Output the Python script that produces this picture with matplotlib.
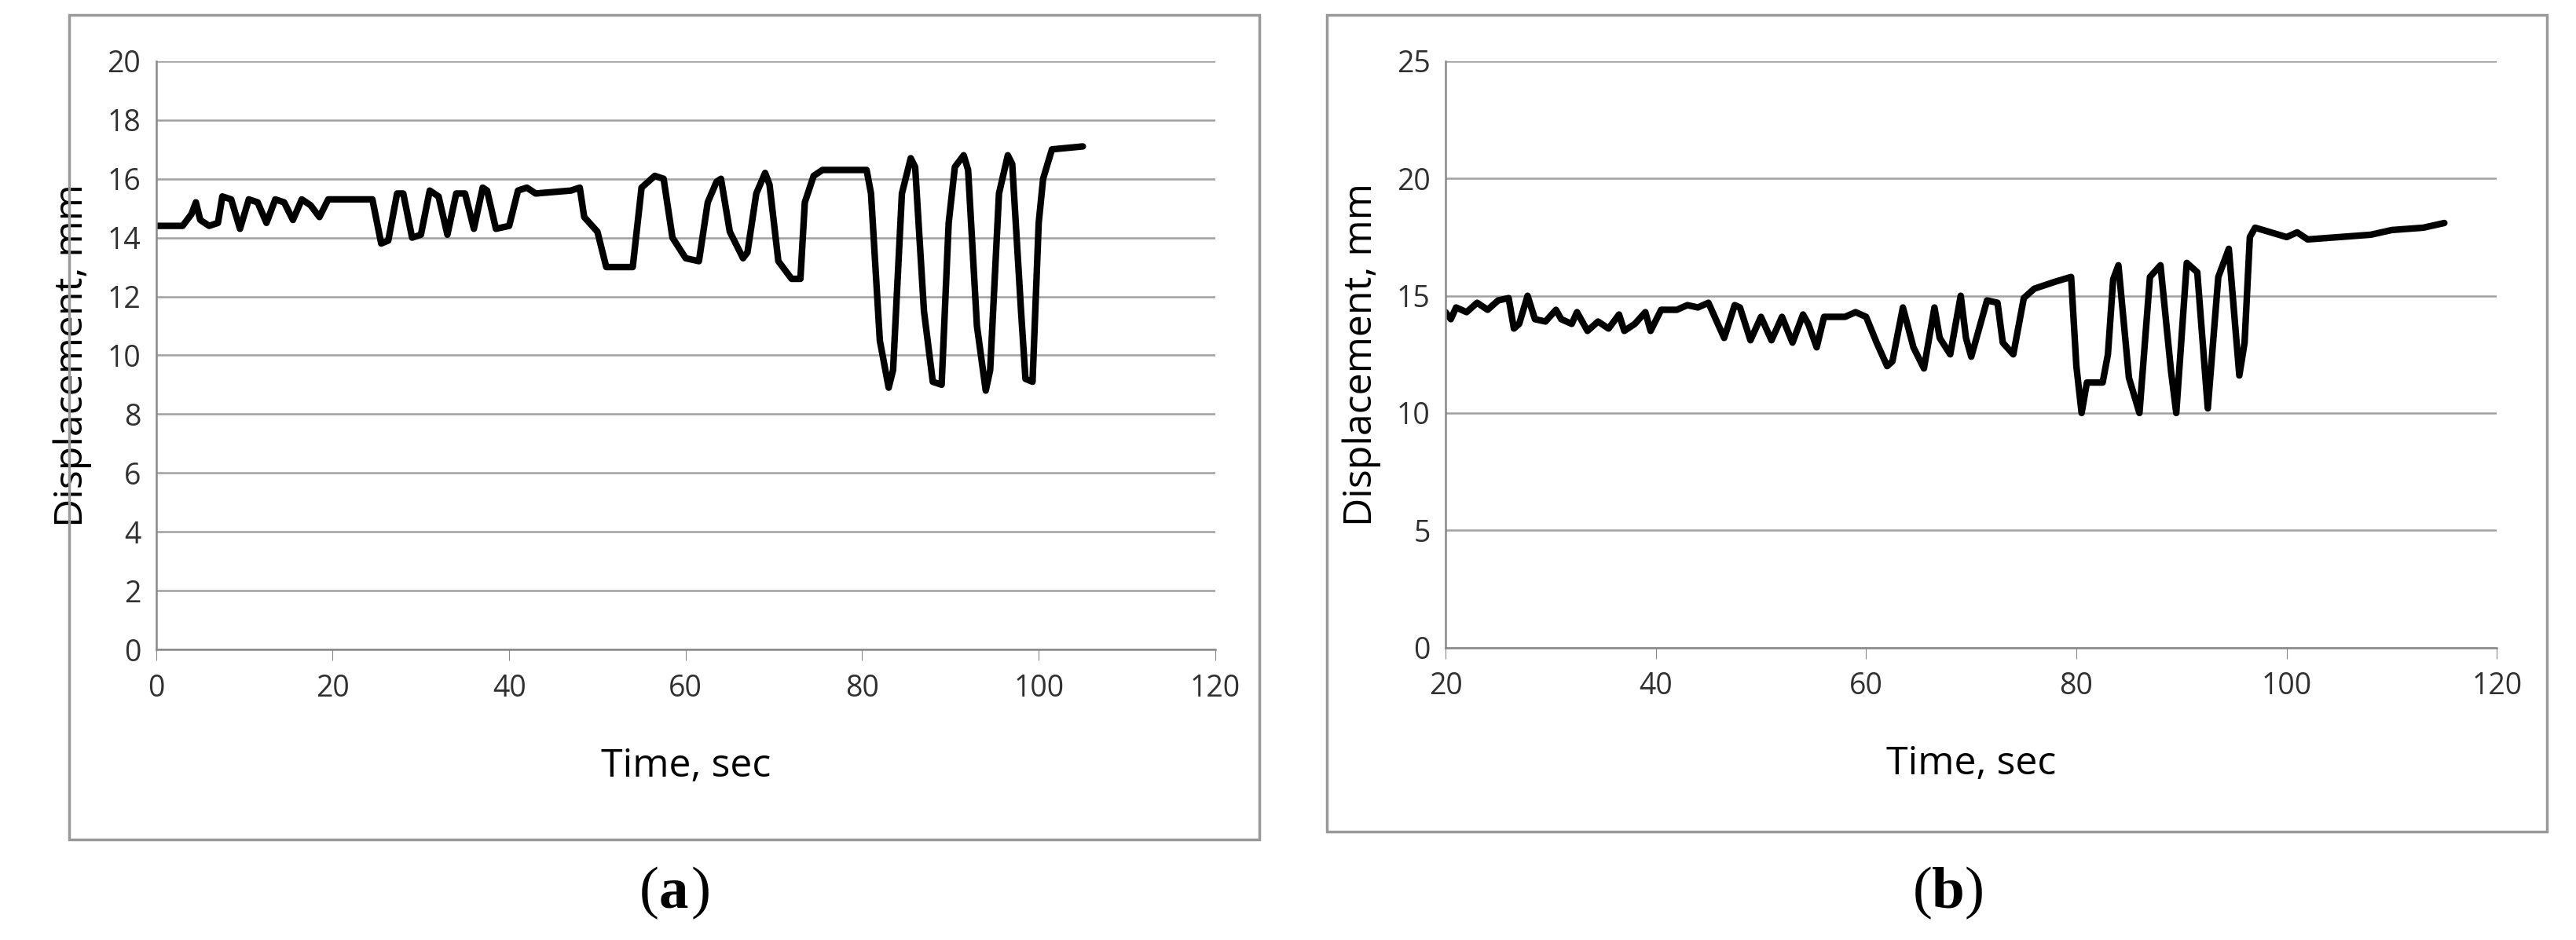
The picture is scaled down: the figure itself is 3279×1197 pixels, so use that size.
import matplotlib

matplotlib.use("Agg")
import matplotlib.pyplot as plt
from matplotlib.patches import Rectangle

# panel (a)
t_a = [0, 3, 4, 4.5, 5, 6, 7, 7.5, 8.5, 9.5, 10.5, 11.5, 12.5, 13.5, 14.5, 15.5,
       16.5, 17.5, 18.5, 19.5, 24.5, 25.5, 26.3, 27.3, 28, 29, 30, 31, 32, 33, 34,
       35, 36, 37, 37.5, 38.5, 40, 41, 42, 43, 47, 48, 48.5, 50, 51, 54, 55, 56.5,
       57.5, 58.5, 60, 61.5, 62.5, 63.5, 64, 65, 66.5, 67, 68, 69, 69.5, 70.5, 72,
       73, 73.5, 74.5, 75.5, 80.5, 81, 82, 83, 83.5, 84.5, 85.5, 86, 87, 88, 89,
       89.8, 90.5, 91.5, 92, 93, 94, 94.5, 95.5, 96.5, 97, 98, 98.5, 99.3, 100,
       100.5, 101.5, 105]
d_a = [14.4, 14.4, 14.8, 15.2, 14.6, 14.4, 14.5, 15.4, 15.3, 14.3, 15.3, 15.2,
       14.5, 15.3, 15.2, 14.6, 15.3, 15.1, 14.7, 15.3, 15.3, 13.8, 13.9, 15.5,
       15.5, 14.0, 14.1, 15.6, 15.4, 14.1, 15.5, 15.5, 14.3, 15.7, 15.6, 14.3,
       14.4, 15.6, 15.7, 15.5, 15.6, 15.7, 14.7, 14.2, 13.0, 13.0, 15.7, 16.1,
       16.0, 14.0, 13.3, 13.2, 15.2, 15.9, 16.0, 14.2, 13.3, 13.5, 15.5, 16.2,
       15.8, 13.2, 12.6, 12.6, 15.2, 16.1, 16.3, 16.3, 15.5, 10.5, 8.9, 9.5,
       15.5, 16.7, 16.4, 11.5, 9.1, 9.0, 14.5, 16.4, 16.8, 16.3, 11.0, 8.8, 9.5,
       15.5, 16.8, 16.5, 11.5, 9.2, 9.1, 14.5, 16.0, 17.0, 17.1]

# panel (b)
t_b = [20, 20.5, 21, 22, 23, 24, 25, 26, 26.5, 27, 27.8, 28.5, 29.5, 30.5, 31,
       32, 32.5, 33.5, 34.5, 35.5, 36.5, 37, 38, 39, 39.5, 40.5, 42, 43, 44, 45,
       45.5, 46.5, 47.5, 48, 49, 50, 51, 52, 53, 54, 54.5, 55.3, 56, 58, 59, 60,
       61, 62, 62.5, 63.5, 64.5, 65.5, 66.5, 67, 68, 69, 69.5, 70, 71.5, 72.5, 73,
       74, 75, 76, 78, 79.5, 80, 80.5, 81, 82.5, 83, 83.5, 84, 85, 86, 87, 88, 89,
       89.5, 90.5, 91.5, 92.5, 93.5, 94.5, 95.5, 96, 96.5, 97, 100, 101, 102, 105,
       108, 110, 113, 115]
d_b = [14.3, 14.0, 14.5, 14.3, 14.7, 14.4, 14.8, 14.9, 13.6, 13.8, 15.0, 14.0,
       13.9, 14.4, 14.0, 13.8, 14.3, 13.5, 13.9, 13.6, 14.2, 13.5, 13.8, 14.3,
       13.5, 14.4, 14.4, 14.6, 14.5, 14.7, 14.2, 13.2, 14.6, 14.5, 13.1, 14.1,
       13.1, 14.1, 13.0, 14.2, 13.8, 12.8, 14.1, 14.1, 14.3, 14.1, 13.0, 12.0,
       12.2, 14.5, 12.8, 11.9, 14.5, 13.2, 12.5, 15.0, 13.2, 12.4, 14.8, 14.7,
       13.0, 12.5, 14.9, 15.3, 15.6, 15.8, 12.0, 10.0, 11.3, 11.3, 12.5, 15.7,
       16.3, 11.5, 10.0, 15.8, 16.3, 11.8, 10.0, 16.4, 16.0, 10.2, 15.8, 17.0,
       11.6, 13.0, 17.5, 17.9, 17.5, 17.7, 17.4, 17.5, 17.6, 17.8, 17.9, 18.1]

FONT = "Open Sans"

fig = plt.figure(figsize=(32.8, 11.97), dpi=100)


def panel(rect, frame, t, d, xlim, xticks, ylim, yticks, tag):
    ax = fig.add_axes(rect)
    ax.plot(t, d, color="black", lw=6, solid_joinstyle="round",
            solid_capstyle="round")
    ax.set_xlim(*xlim)
    ax.set_ylim(*ylim)
    ax.set_xticks(xticks)
    ax.set_yticks(yticks)
    ax.yaxis.grid(True, color="#a0a0a0", lw=1.8)
    ax.set_axisbelow(True)
    for s in ("top", "right"):
        ax.spines[s].set_visible(False)
    for s in ("left", "bottom"):
        ax.spines[s].set_color("#888888")
        ax.spines[s].set_linewidth(1.8)
    ax.tick_params(axis="x", direction="out", length=10, color="#888888",
                   labelsize=27, pad=12)
    ax.tick_params(axis="y", length=0, labelsize=27, pad=14)
    for lab in ax.get_xticklabels() + ax.get_yticklabels():
        lab.set_fontfamily(FONT)
        lab.set_color("#303030")
    ax.set_ylabel("Displacement, mm", fontsize=36, family=FONT, labelpad=14)
    ax.set_xlabel("Time, sec", fontsize=36, family=FONT, labelpad=40)
    fig.patches.append(Rectangle(frame[:2], frame[2], frame[3],
                                 transform=fig.transFigure, fill=False,
                                 edgecolor="#999999", lw=2.5))
    cx = frame[0] + frame[2] / 2
    y = 0.035
    fig.text(cx - 0.002, y, "(", fontsize=54, family="Liberation Serif", ha="right")
    fig.text(cx - 0.002, y, tag, fontsize=54, family="Liberation Serif",
             weight="bold", ha="left")
    fig.text(cx + 0.0105, y, ")", fontsize=54, family="Liberation Serif",
             ha="left")
    return ax


panel([0.0606, 0.309, 0.411, 0.626], [0.0268, 0.107, 0.462, 0.877],
      t_a, d_a, (0, 120), range(0, 121, 20), (0, 20), range(0, 21, 2), "a")
panel([0.561, 0.311, 0.408, 0.624], [0.515, 0.115, 0.4735, 0.869],
      t_b, d_b, (20, 120), range(20, 121, 20), (0, 25), range(0, 26, 5), "b")

fig.savefig("out.png", dpi=100)
